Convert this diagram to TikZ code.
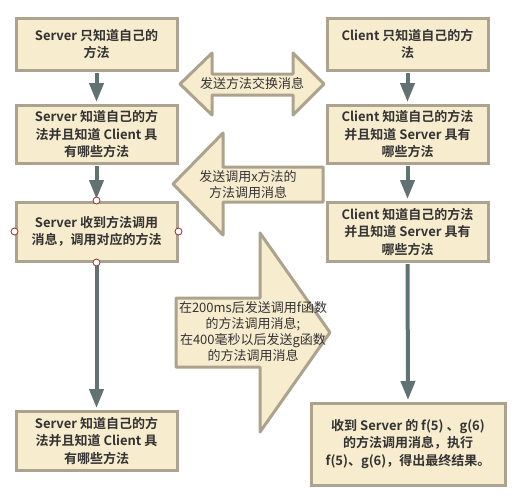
\documentclass[tikz,border=0pt]{standalone}
\usepackage{fontspec}
\setmainfont{Noto Sans CJK SC}[BoldFont={Noto Sans CJK SC Bold}]
\usetikzlibrary{arrows.meta}
\definecolor{boxfill}{HTML}{F8ECCE}
\definecolor{boxline}{HTML}{ABA38D}
\definecolor{flowgray}{HTML}{607271}
\definecolor{textgray}{HTML}{333333}
\definecolor{handlered}{HTML}{A32A2A}

\begin{document}
\begin{tikzpicture}[x=1pt,y=-1pt,
							infobox/.style={rectangle, draw=boxline, line width=3pt, fill=boxfill, minimum width=161pt, inner sep=0pt, align=center, text=textgray, font=\fontsize{13}{17.5}\selectfont\bfseries},
							flowline/.style={draw=flowgray, line width=4pt, shorten <=1.5pt, shorten >=1.5pt, -{Triangle[width=14pt,length=19pt]}},
							handle/.style={circle, draw=handlered, fill=white, line width=0.8pt, minimum size=7pt, inner sep=0pt},
							blockarrow/.style={draw=boxline, line width=3pt, fill=boxfill, line join=round},
							arrowtext/.style={align=center, text=textgray, font=\fontsize{13}{16}\selectfont},
							]
							\useasboundingbox (0,0) rectangle (518,501);
							%Nodes
							\node[infobox, minimum height=52pt]   (s1) at (96.5,44)    {Server 只知道自己的\\方法};
							\node[infobox, minimum height=58pt]   (s2) at (96.5,134)   {Server 知道自己的方\\法并且知道 Client 具\\有哪些方法};
							\node[infobox, minimum height=59pt]   (s3) at (96.5,231.5) {Server 收到方法调用\\消息，调用对应的方法};
							\node[infobox, minimum height=59pt]   (s4) at (96.5,440.5) {Server 知道自己的方\\法并且知道 Client 具\\有哪些方法};
							\node[infobox, minimum height=52pt]   (c1) at (407.5,44)   {Client 只知道自己的方\\法};
							\node[infobox, minimum height=58pt]   (c2) at (407.5,134)  {Client 知道自己的方法\\并且知道 Server 具有\\哪些方法};
							\node[infobox, minimum height=59pt]   (c3) at (407.5,231.5){Client 知道自己的方法\\并且知道 Server 具有\\哪些方法};
							\node[infobox, minimum height=82pt, minimum width=194pt] (c4) at (408,444) {收到 Server 的 f(5) 、g(6)\\的方法调用消息，执行\\f(5)、g(6)，得出最终结果。};

							%Block arrows
							\draw[blockarrow] (180,84) -- (212,53) -- (212,74) -- (293,74) -- (293,53) -- (324,84) -- (293,115) -- (293,95) -- (212,95) -- (212,115) -- cycle;
							\draw[blockarrow] (173,184) -- (223,133) -- (223,167) -- (323,167) -- (323,202) -- (223,202) -- (223,235) -- cycle;
							\draw[blockarrow] (176,298) -- (260,298) -- (260,233) -- (330,332.5) -- (260,432) -- (260,367) -- (176,367) -- cycle;
							\node[arrowtext] (swap) at (252,84)  {发送方法交换消息};
							\node[arrowtext] (callx) at (248,185) {发送调用x方法的\\方法调用消息};
							\node[arrowtext] (callfg) at (253,332) {在200ms后发送调用f函数\\的方法调用消息;\\在400毫秒以后发送g函数\\的方法调用消息};

							%Lines
							\draw[flowline] (s1.south) -- (s2.north);
							\draw[flowline] (s2.south) -- (s3.north);
							\draw[flowline] (s3.south) -- (s4.north);
							\draw[flowline] (c1.south) -- (c2.north);
							\draw[flowline] (c2.south) -- (c3.north);
							\draw[flowline] (c3.south) -- (c4.north);

							%Handles
							\node[handle] (hn) at (s3.north) {};
							\node[handle] (hw) at (s3.west) {};
							\node[handle] (he) at (s3.east) {};
							\node[handle] (hs) at (s3.south) {};
\end{tikzpicture}
\end{document}
